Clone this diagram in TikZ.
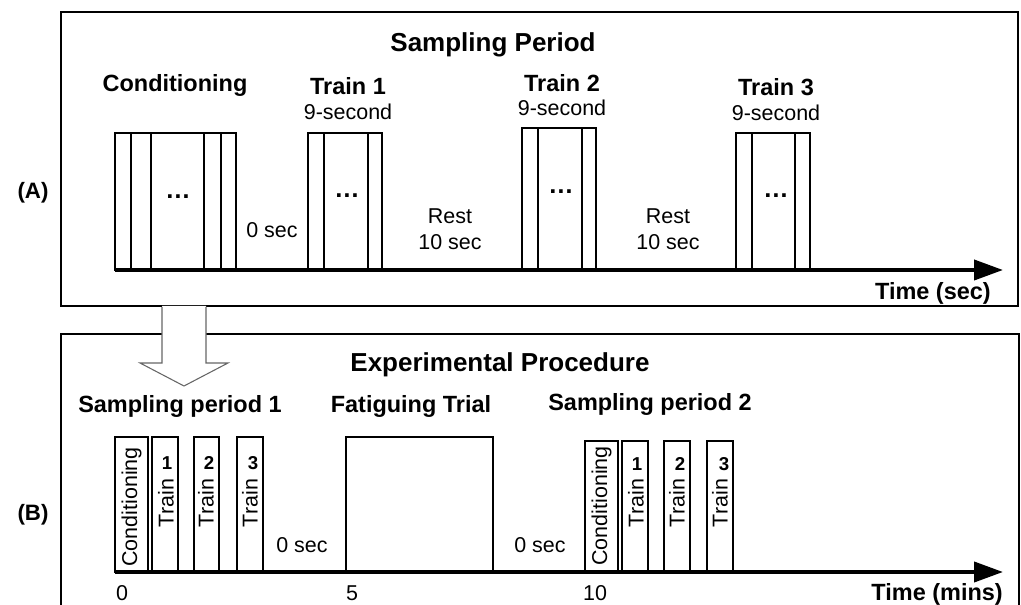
\documentclass[tikz,border=0pt]{standalone}
\usepackage{fontspec}
\setmainfont{Liberation Sans}
\usetikzlibrary{arrows.meta,positioning}
\tikzset{
  panel/.style={draw=black, line width=1.5pt},
  blk/.style={draw=black, line width=1.4pt, fill=white},
  axis/.style={line width=3pt, -{Triangle[length=21.75pt,width=15pt]}},
  hollow/.style={draw=black!60, line width=0.8pt},
  ttl/.style={font=\fontsize{19.5}{22}\selectfont\bfseries, inner sep=0pt},
  sub/.style={font=\fontsize{17.6}{20}\selectfont\bfseries, inner sep=0pt},
  txt/.style={font=\fontsize{16.1}{19.5}\selectfont, inner sep=0pt, align=center},
  num/.style={font=\fontsize{14}{16}\selectfont\bfseries, inner sep=0pt},
  vtxt/.style={font=\fontsize{16.1}{19}\selectfont, inner sep=0pt, rotate=90},
  dots/.style={font=\fontsize{19}{21}\selectfont\bfseries, inner sep=0pt}
}
\begin{document}
\begin{tikzpicture}[x=0.75pt,y=-0.75pt]
  \useasboundingbox (0,0) rectangle (1021,605);

  % panels
  \draw[panel] (61,12) rectangle (1018,306);
  \draw[panel] (61,620) -- (61,334) -- (1019,334) -- (1019,620);

  % hollow arrow from (A) to (B)
  \fill[white] (162,306) -- (162,363) -- (140,363) -- (184,386)
    -- (228,363) -- (206,363) -- (206,306) -- cycle;
  \draw[hollow] (162,307) -- (162,363) -- (140,363) -- (184,386)
    -- (228,363) -- (206,363) -- (206,307);

  \node[txt, font=\fontsize{16.7}{19}\selectfont\bfseries] (labA) at (33,193) {(A)};
  \node[txt, font=\fontsize{16.7}{19}\selectfont\bfseries] (labB) at (33,515) {(B)};

  %% ---------- (A) Sampling period ----------
  \node[ttl] (sp) at (493,45) {Sampling Period};

  % conditioning block
  \draw[blk] (115,133) rectangle (236,270);
  \draw[line width=1.4pt] (131,133) -- (131,270) (151,133) -- (151,270)
    (204,133) -- (204,270) (221,133) -- (221,270);
  \node[sub] (cond) at (175,85) {Conditioning};
  \node[dots] (d0) at (178,197) {…};

  % trains
  \draw[blk] (308,133) rectangle (382,270);
  \draw[line width=1.4pt] (324,133) -- (324,270) (368,133) -- (368,270);
  \node[sub] (tr1) at (348,86) {Train 1};
  \node[txt] (tr1s) at (348,112) {9-second};
  \node[dots] (d1) at (347,196) {…};

  \draw[blk] (522,128) rectangle (596,270);
  \draw[line width=1.4pt] (538,128) -- (538,270) (582,128) -- (582,270);
  \node[sub] (tr2) at (562,83) {Train 2};
  \node[txt] (tr2s) at (562,108) {9-second};
  \node[dots] (d2) at (561,192) {…};

  \draw[blk] (736,133) rectangle (810,270);
  \draw[line width=1.4pt] (752,133) -- (752,270) (795,133) -- (795,270);
  \node[sub] (tr3) at (776,87) {Train 3};
  \node[txt] (tr3s) at (776,113) {9-second};
  \node[dots] (d3) at (776,196) {…};

  \node[txt] (gapA) at (272,230) {0 sec};
  \node[txt] (restA) at (450,229) {Rest\\10 sec};
  \node[txt] (restB) at (668,229) {Rest\\10 sec};

  \coordinate (axA0) at (115,270);
  \coordinate (axA1) at (1003,270);
  \draw[axis] (axA0) -- (axA1);
  \node[sub, anchor=east] (timeA) at (991,293) {Time (sec)};

  %% ---------- (B) Experimental procedure ----------
  \node[ttl] (ep) at (500,365) {Experimental Procedure};
  \node[sub] (sp1) at (180,406) {Sampling period 1};
  \node[sub] (ft) at (411,406) {Fatiguing Trial};
  \node[sub] (sp2) at (650,404) {Sampling period 2};

  % sampling period 1
  \draw[blk] (115,437) rectangle (148,572);
  \node[vtxt] (c1) at (131.5,507) {Conditioning};
  \draw[blk] (152,437) rectangle (178,572);
  \node[vtxt] (t11) at (166,503) {Train};
  \node[num] (n11) at (167,463) {1};
  \draw[blk] (194,437) rectangle (219,572);
  \node[vtxt] (t12) at (206,503) {Train};
  \node[num] (n12) at (209,463) {2};
  \draw[blk] (237,437) rectangle (263,572);
  \node[vtxt] (t13) at (250,503) {Train};
  \node[num] (n13) at (253,463) {3};

  % fatiguing trial
  \draw[blk] (346,437) rectangle (493,572);

  % sampling period 2
  \draw[blk] (585,441) rectangle (618,572);
  \node[vtxt] (c2) at (601.5,506) {Conditioning};
  \draw[blk] (622,441) rectangle (648,572);
  \node[vtxt] (t21) at (636,503) {Train};
  \node[num] (n21) at (637,464) {1};
  \draw[blk] (664,441) rectangle (690,572);
  \node[vtxt] (t22) at (677,503) {Train};
  \node[num] (n22) at (680,464) {2};
  \draw[blk] (707,441) rectangle (733,572);
  \node[vtxt] (t23) at (720,503) {Train};
  \node[num] (n23) at (724,464) {3};

  \node[txt] (gapB1) at (302,545) {0 sec};
  \node[txt] (gapB2) at (540,545) {0 sec};

  \coordinate (axB0) at (115,572);
  \coordinate (axB1) at (1003,572);
  \draw[axis] (axB0) -- (axB1);

  \node[txt] (tk0) at (122,593) {0};
  \node[txt] (tk5) at (352,593) {5};
  \node[txt] (tk10) at (595,593) {10};
  \node[sub, anchor=east] (timeB) at (1003,594) {Time (mins)};

\end{tikzpicture}
\end{document}
